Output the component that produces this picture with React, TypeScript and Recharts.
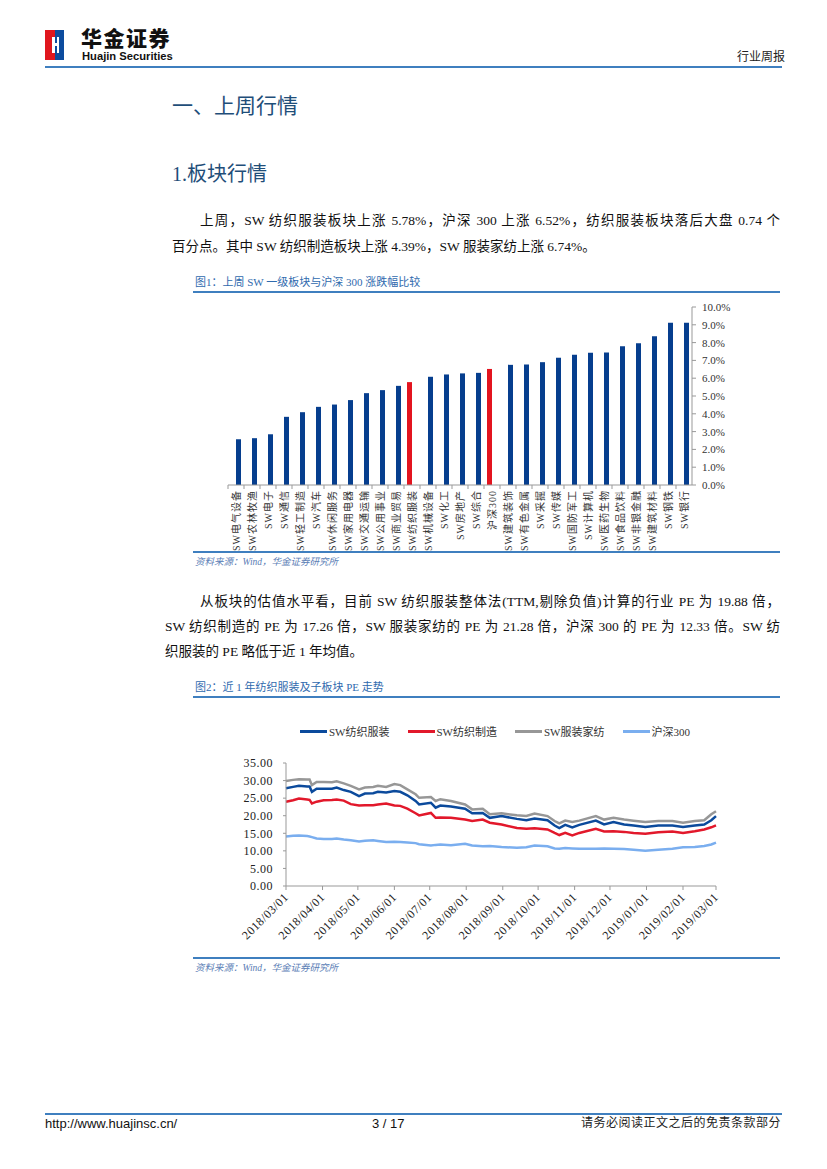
import React from "react";
import { BarChart, Bar, XAxis, YAxis, LineChart, Line, Legend } from "recharts";

// ---- 图1 数据 ----
const SECTORS = [
  "SW电气设备", "SW农林牧渔", "SW电子", "SW通信", "SW轻工制造", "SW汽车",
  "SW休闲服务", "SW家用电器", "SW交通运输", "SW公用事业", "SW商业贸易", "SW纺织服装",
  "SW机械设备", "SW化工", "SW房地产", "SW综合", "沪深300", "SW建筑装饰",
  "SW有色金属", "SW采掘", "SW传媒", "SW国防军工", "SW计算机", "SW医药生物",
  "SW食品饮料", "SW非银金融", "SW建筑材料", "SW钢铁", "SW银行",
];
const SECTOR_CHANGE = [
  2.57, 2.63, 2.85, 3.83, 4.09, 4.39,
  4.52, 4.77, 5.16, 5.33, 5.57, 5.78,
  6.08, 6.21, 6.27, 6.30, 6.52, 6.75,
  6.77, 6.90, 7.15, 7.32, 7.43, 7.45,
  7.80, 7.97, 8.35, 9.12, 9.12,
];
const HIGHLIGHT = ["SW纺织服装", "沪深300"];
const PCT_TICKS = [0, 1, 2, 3, 4, 5, 6, 7, 8, 9, 10];

// ---- 图2 数据 ----
const DATES = [
  "2018-03-01", "2018-03-07", "2018-03-12", "2018-03-19", "2018-03-21", "2018-03-23",
  "2018-03-27", "2018-04-02", "2018-04-09", "2018-04-13", "2018-04-19", "2018-04-25",
  "2018-05-02", "2018-05-07", "2018-05-14", "2018-05-18", "2018-05-25", "2018-06-01",
  "2018-06-06", "2018-06-12", "2018-06-19", "2018-06-22", "2018-07-02", "2018-07-06",
  "2018-07-10", "2018-07-19", "2018-07-31", "2018-08-06", "2018-08-15", "2018-08-21",
  "2018-08-31", "2018-09-13", "2018-09-21", "2018-09-28", "2018-10-09", "2018-10-15",
  "2018-10-19", "2018-10-24", "2018-10-30", "2018-11-05", "2018-11-19", "2018-11-26",
  "2018-12-04", "2018-12-13", "2018-12-21", "2018-12-31", "2019-01-11", "2019-01-23",
  "2019-02-01", "2019-02-11", "2019-02-19", "2019-02-25", "2019-03-01",
];
const PE_TEXTILE = [
  27.8, 28.2, 28.5, 28.3, 28.3, 26.8, 27.7, 27.7, 27.7, 28.0, 27.3, 26.8,
  25.6, 26.3, 26.4, 26.8, 26.6, 27.0, 26.8, 25.8, 24.2, 23.2, 23.7, 22.3,
  22.9, 22.6, 22.0, 20.7, 20.8, 19.4, 19.9, 19.1, 18.7, 19.2, 18.7, 17.2,
  16.5, 17.4, 16.7, 17.4, 18.6, 17.5, 18.2, 17.5, 17.2, 16.8, 17.2, 17.2,
  16.8, 17.2, 17.5, 18.7, 19.88,
];
const PE_MANUFACTURE = [
  24.0, 24.4, 24.9, 24.6, 24.5, 23.5, 24.0, 24.4, 24.5, 24.6, 24.3, 23.3,
  22.9, 23.0, 23.0, 23.2, 23.5, 22.9, 22.8, 22.0, 20.7, 20.1, 20.8, 19.4,
  19.5, 19.4, 18.9, 18.5, 18.9, 18.0, 17.5, 16.5, 16.3, 16.4, 16.1, 15.1,
  14.5, 15.1, 14.4, 15.1, 16.3, 15.5, 15.6, 15.4, 15.1, 14.9, 15.3, 15.5,
  15.1, 15.6, 16.1, 16.7, 17.26,
];
const PE_APPAREL = [
  29.9, 30.2, 30.4, 30.3, 30.3, 28.7, 29.6, 29.6, 29.5, 29.8, 29.2, 28.5,
  27.5, 28.0, 28.2, 28.5, 28.2, 29.0, 28.7, 27.5, 26.1, 25.1, 25.3, 24.2,
  24.7, 24.2, 23.2, 21.8, 22.0, 20.4, 20.7, 20.1, 19.9, 20.6, 19.9, 18.5,
  17.8, 18.6, 18.2, 18.6, 19.9, 18.9, 19.4, 18.9, 18.6, 18.2, 18.5, 18.5,
  18.0, 18.5, 18.7, 20.4, 21.28,
];
const PE_HS300 = [
  14.1, 14.3, 14.4, 14.2, 14.1, 13.9, 13.5, 13.4, 13.4, 13.5, 13.2, 13.0,
  12.7, 12.9, 13.0, 12.8, 12.5, 12.6, 12.5, 12.4, 12.2, 11.9, 11.5, 11.7,
  11.8, 11.6, 12.0, 11.5, 11.3, 11.4, 11.1, 10.9, 11.0, 11.5, 11.3, 10.7,
  10.6, 10.8, 10.7, 10.6, 10.6, 10.7, 10.6, 10.5, 10.3, 10.0, 10.3, 10.6,
  11.0, 11.1, 11.4, 11.8, 12.33,
];
const MONTH_TICKS = [
  "2018-03-01", "2018-04-01", "2018-05-01", "2018-06-01", "2018-07-01", "2018-08-01",
  "2018-09-01", "2018-10-01", "2018-11-01", "2018-12-01", "2019-01-01", "2019-02-01",
  "2019-03-01",
];
const PE_TICKS = [0, 5, 10, 15, 20, 25, 30, 35];

const SERIES = [
  { key: "textile", name: "SW纺织服装", color: "#0B4A9C" },
  { key: "manufacture", name: "SW纺织制造", color: "#E2182B" },
  { key: "apparel", name: "SW服装家纺", color: "#979797" },
  { key: "hs300", name: "沪深300", color: "#7AAEEF" },
];

const BLUE = "#063E8E";
const RED = "#E3141F";
const RULE = "#3F7FBF";
const HEAD = "#1F4E79";
const CAPTION = "#2F6AAE";
const CJK = "'Liberation Serif','Noto Sans CJK SC',serif";
const NUM = "'Liberation Serif',serif";
const SANS = "'Liberation Sans Narrow','Liberation Sans',sans-serif";

const barData = SECTORS.map((name, i) => {
  const hl = HIGHLIGHT.includes(name);
  return { name, red: hl ? SECTOR_CHANGE[i] : null, blue: hl ? null : SECTOR_CHANGE[i] };
});

const lineData = DATES.map((d, i) => ({
  t: Date.parse(d),
  textile: PE_TEXTILE[i],
  manufacture: PE_MANUFACTURE[i],
  apparel: PE_APPAREL[i],
  hs300: PE_HS300[i],
}));

const fmtDate = (t: number) => new Date(t).toISOString().slice(0, 10).replace(/-/g, "/");

const SectorTick = ({ x, y, payload }: any) => (
  <g>
    <line x1={x - 8} x2={x - 8} y1={y - 4} y2={y} stroke="#999" />
    <text
      x={x}
      y={y + 1}
      transform={`rotate(-90 ${x} ${y + 1})`}
      textAnchor="end"
      dominantBaseline="central"
      fontSize={10}
      letterSpacing={1}
      fontFamily={CJK}
      fill="#333"
    >
      {payload.value}
    </text>
  </g>
);

const DateTick = ({ x, y, payload }: any) => (
  <text
    x={x + 3}
    y={y + 6}
    transform={`rotate(-45 ${x + 3} ${y + 6})`}
    textAnchor="end"
    fontSize={12}
    letterSpacing={0.5}
    fontFamily={NUM}
    fill="#222"
  >
    {fmtDate(payload.value)}
  </text>
);

const LineLegend = () => (
  <div style={{ height: 20, display: "flex", alignItems: "center", paddingLeft: 110, fontFamily: CJK, fontSize: 11, color: "#333" }}>
    {SERIES.map((s) => (
      <div key={s.key} style={{ display: "flex", alignItems: "center", marginRight: 18 }}>
        <span style={{ display: "inline-block", width: 27, height: 3, background: s.color, marginRight: 2 }} />
        <span>{s.name}</span>
      </div>
    ))}
  </div>
);

const Rule = ({ top, left, width, h = 2 }: { top: number; left: number; width: number; h?: number }) => (
  <div style={{ position: "absolute", top, left, width, height: h, background: RULE }} />
);

const Txt = ({ top, left, width, size = 13.5, justify = false, color = "#111", children, style }: any) => (
  <div
    style={{
      position: "absolute",
      top,
      left,
      width,
      fontSize: size,
      lineHeight: 1,
      whiteSpace: "nowrap",
      color,
      textAlign: justify ? "justify" : "left",
      textAlignLast: justify ? "justify" : "left",
      fontFamily: CJK,
      ...style,
    }}
  >
    {children}
  </div>
);

export default function App() {
  return (
    <div style={{ position: "relative", width: 827, height: 1169, background: "#fff", overflow: "hidden" }}>
      <style>{"body{margin:0}"}</style>

      {/* 页眉 */}
      <svg style={{ position: "absolute", left: 45, top: 30 }} width={19} height={30}>
        <rect x={0} y={0} width={10} height={30} fill="#E0161E" />
        <rect x={10} y={0} width={9} height={30} fill="#0D4C9E" />
        <path d="M7 7 L7 23 L10 23 L10 16 L12 16 L12 23 L14 23 L14 7 L12 7 L12 13 L10 13 L10 7 Z" fill="#fff" />
      </svg>
      <div style={{ position: "absolute", left: 81, top: 27, fontFamily: "'Noto Sans CJK SC'", fontWeight: 900, fontSize: 21, letterSpacing: 1.5, color: "#111", lineHeight: "21px" }}>
        华金证券
      </div>
      <div style={{ position: "absolute", left: 82, top: 51, fontFamily: SANS, fontWeight: 700, fontSize: 11.2, color: "#111", lineHeight: "11px" }}>
        Huajin Securities
      </div>
      <Txt top={51} left={737} size={12} color="#222">行业周报</Txt>
      <Rule top={66} left={45} width={737} />

      <Txt top={96} left={172} size={21} color={HEAD}>一、上周行情</Txt>
      <Txt top={164} left={172} size={20} color={HEAD}>1.板块行情</Txt>

      <Txt top={214} left={200} width={580} justify>
        上周，SW 纺织服装板块上涨 5.78%，沪深 300 上涨 6.52%，纺织服装板块落后大盘 0.74 个
      </Txt>
      <Txt top={240} left={172}>百分点。其中 SW 纺织制造板块上涨 4.39%，SW 服装家纺上涨 6.74%。</Txt>

      {/* 图1 */}
      <Txt top={277} left={195} size={11} color={CAPTION}>图1：上周 SW 一级板块与沪深 300 涨跌幅比较</Txt>
      <Rule top={291} left={193} width={587} h={1.5} />
      <div style={{ position: "absolute", left: 200, top: 295 }}>
        <BarChart width={560} height={260} data={barData} margin={{ top: 12, right: 0, bottom: 0, left: 28 }} barGap={0}>
          <XAxis
            dataKey="name"
            interval={0}
            height={70}
            tickLine={false}
            tickSize={4}
            tickMargin={0}
            axisLine={{ stroke: "#999" }}
            tick={<SectorTick />}
          />
          <YAxis
            orientation="right"
            width={68}
            domain={[0, 10]}
            ticks={PCT_TICKS}
            interval={0}
            tickFormatter={(v: number) => v.toFixed(1) + "%"}
            axisLine={{ stroke: "#999" }}
            tickLine={{ stroke: "#999" }}
            tickSize={4}
            tickMargin={6}
            tick={{ fontSize: 11, fill: "#333", fontFamily: NUM }}
          />
          <Bar dataKey="red" fill={RED} barSize={5} isAnimationActive={false} />
          <Bar dataKey="blue" fill={BLUE} barSize={5} isAnimationActive={false} />
        </BarChart>
      </div>
      <Rule top={551} left={193} width={587} h={1.5} />
      <Txt top={558} left={195} size={9.5} color="#5A7DB5" style={{ fontStyle: "italic" }}>资料来源：Wind，华金证券研究所</Txt>

      <Txt top={595} left={200} width={580} justify>
        从板块的估值水平看，目前 SW 纺织服装整体法(TTM,剔除负值)计算的行业 PE 为 19.88 倍，
      </Txt>
      <Txt top={620} left={165} width={615} justify>
        SW 纺织制造的 PE 为 17.26 倍，SW 服装家纺的 PE 为 21.28 倍，沪深 300 的 PE 为 12.33 倍。SW 纺
      </Txt>
      <Txt top={645} left={165}>织服装的 PE 略低于近 1 年均值。</Txt>

      {/* 图2 */}
      <Txt top={682} left={195} size={11} color={CAPTION}>图2：近 1 年纺织服装及子板块 PE 走势</Txt>
      <Rule top={696} left={193} width={587} h={1.5} />
      <div style={{ position: "absolute", left: 190, top: 715 }}>
        <LineChart width={550} height={245} data={lineData} margin={{ top: 28, right: 24, bottom: 0, left: 36 }}>
          <Legend verticalAlign="top" align="left" content={<LineLegend />} wrapperStyle={{ top: 6, left: 0, width: 550 }} />
          <XAxis
            dataKey="t"
            type="number"
            scale="time"
            domain={[Date.parse(MONTH_TICKS[0]), Date.parse(MONTH_TICKS[MONTH_TICKS.length - 1])]}
            ticks={MONTH_TICKS.map((d) => Date.parse(d))}
            interval={0}
            height={74}
            axisLine={{ stroke: "#999" }}
            tickLine={{ stroke: "#999" }}
            tickSize={4}
            tickMargin={2}
            tick={<DateTick />}
          />
          <YAxis
            width={60}
            domain={[0, 35]}
            ticks={PE_TICKS}
            interval={0}
            tickFormatter={(v: number) => v.toFixed(2)}
            axisLine={{ stroke: "#999" }}
            tickLine={{ stroke: "#999" }}
            tickSize={3}
            tickMargin={10}
            tick={{ fontSize: 12, fill: "#222", fontFamily: NUM, letterSpacing: 0.5 }}
          />
          {SERIES.map((s) => (
            <Line
              key={s.key}
              dataKey={s.key}
              name={s.name}
              stroke={s.color}
              strokeWidth={2.5}
              dot={false}
              type="linear"
              isAnimationActive={false}
            />
          ))}
        </LineChart>
      </div>
      <Rule top={957} left={193} width={587} h={1.5} />
      <Txt top={964} left={195} size={9.5} color="#5A7DB5" style={{ fontStyle: "italic" }}>资料来源：Wind，华金证券研究所</Txt>

      {/* 页脚 */}
      <Rule top={1113} left={45} width={737} />
      <div style={{ position: "absolute", left: 45, top: 1116, fontFamily: SANS, fontSize: 13, color: "#111" }}>
        http://www.huajinsc.cn/
      </div>
      <div style={{ position: "absolute", left: 372, top: 1116, fontFamily: SANS, fontSize: 13, color: "#111" }}>
        3 / 17
      </div>
      <Txt top={1117} left={581} size={12} color="#222" style={{ letterSpacing: 0.5 }}>请务必阅读正文之后的免责条款部分</Txt>
    </div>
  );
}
